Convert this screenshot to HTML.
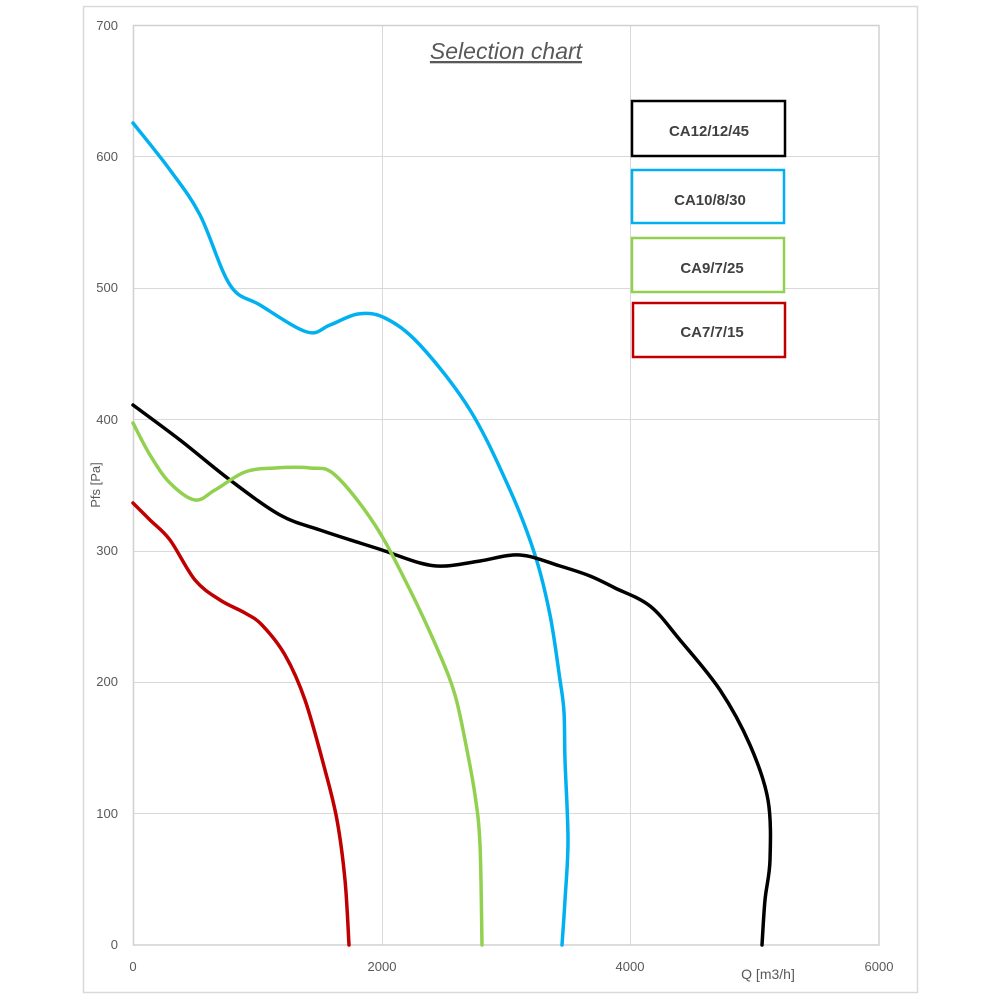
<!DOCTYPE html>
<html><head><meta charset="utf-8"><style>
body{margin:0;background:#fff;}
svg{display:block;font-family:"Liberation Sans",sans-serif;}
</style></head><body>
<svg width="1000" height="1000" viewBox="0 0 1000 1000">
<rect x="83.5" y="6.5" width="834" height="986" fill="#fff" stroke="#d9d9d9" stroke-width="1.5"/>
<g stroke="#d9d9d9" stroke-width="1">
<line x1="133" y1="813.5" x2="879" y2="813.5"/>
<line x1="133" y1="682.5" x2="879" y2="682.5"/>
<line x1="133" y1="551.5" x2="879" y2="551.5"/>
<line x1="133" y1="419.5" x2="879" y2="419.5"/>
<line x1="133" y1="288.5" x2="879" y2="288.5"/>
<line x1="133" y1="156.5" x2="879" y2="156.5"/>
<line x1="382.5" y1="25" x2="382.5" y2="945"/>
<line x1="630.5" y1="25" x2="630.5" y2="945"/>
</g>
<rect x="133.5" y="25.5" width="745.5" height="919.5" fill="none" stroke="#d0d0d0" stroke-width="1.5"/>
<g font-size="13" fill="#595959" text-anchor="end">
<text x="118" y="949">0</text><text x="118" y="818">100</text><text x="118" y="686">200</text>
<text x="118" y="555">300</text><text x="118" y="424">400</text><text x="118" y="292">500</text>
<text x="118" y="161">600</text><text x="118" y="30">700</text>
</g>
<g font-size="13" fill="#595959" text-anchor="middle">
<text x="133" y="971">0</text><text x="382" y="971">2000</text><text x="630" y="971">4000</text><text x="879" y="971">6000</text>
</g>
<text x="768" y="979" font-size="14" fill="#595959" text-anchor="middle">Q [m3/h]</text>
<text transform="translate(100,485) rotate(-90)" font-size="13" fill="#595959" text-anchor="middle">Pfs [Pa]</text>
<text x="506" y="59" font-size="23" font-style="italic" fill="#595959" text-anchor="middle" text-decoration="underline">Selection chart</text>
<g fill="none" stroke-width="3.5" stroke-linejoin="round" stroke-linecap="round">
<polyline class="c" stroke="#00b0f0" points="133,123 170,170 200,215 230,285 260,305 307,332 330,325 358,314 385,318 420,345 470,410 510,490 535,555 550,615 560,680 564,712 565,760 568,840 565,900 562,945"/>
<polyline class="c" stroke="#000" points="133,405 180,440 230,480 280,515 320,530 360,543 382,550 420,563 445,566 480,561 520,555 560,566 590,576 615,588 650,606 680,640 720,690 750,745 768,800 770,860 765,900 762,945"/>
<polyline class="c" stroke="#92d050" points="133,423 150,455 170,483 195,500 215,490 245,472 275,468 310,468 335,475 375,525 410,590 440,655 455,695 465,740 475,795 480,845 482,945"/>
<polyline class="c" stroke="#c00000" points="133,503 150,520 170,540 195,580 220,600 245,613 262,625 285,655 305,700 325,770 337,820 345,880 349,945"/>
</g>
<g fill="#fff" stroke-width="2.5">
<rect x="632" y="101" width="153" height="55" stroke="#000"/>
<rect x="632" y="170" width="152" height="53" stroke="#00b0f0"/>
<rect x="632" y="238" width="152" height="54" stroke="#92d050"/>
<rect x="633" y="303" width="152" height="54" stroke="#c00000"/>
</g>
<g font-size="15" font-weight="bold" fill="#404040" text-anchor="middle">
<text x="709" y="136">CA12/12/45</text>
<text x="710" y="205">CA10/8/30</text>
<text x="712" y="273">CA9/7/25</text>
<text x="712" y="337">CA7/7/15</text>
</g>
</svg>
<script>
document.querySelectorAll('polyline.c').forEach(function(pl){
 var p=pl.getAttribute('points').trim().split(/\s+/).map(function(s){return s.split(',').map(Number);});
 var d='M'+p[0][0]+','+p[0][1];
 for(var i=0;i<p.length-1;i++){
  var p0=p[i-1]||p[i],p1=p[i],p2=p[i+1],p3=p[i+2]||p2;
  var c1=[p1[0]+(p2[0]-p0[0])/6,p1[1]+(p2[1]-p0[1])/6];
  var c2=[p2[0]-(p3[0]-p1[0])/6,p2[1]-(p3[1]-p1[1])/6];
  d+=' C'+c1+' '+c2+' '+p2;
 }
 var path=document.createElementNS('http://www.w3.org/2000/svg','path');
 path.setAttribute('d',d);path.setAttribute('stroke',pl.getAttribute('stroke'));
 pl.parentNode.replaceChild(path,pl);
});
</script>
</body></html>
